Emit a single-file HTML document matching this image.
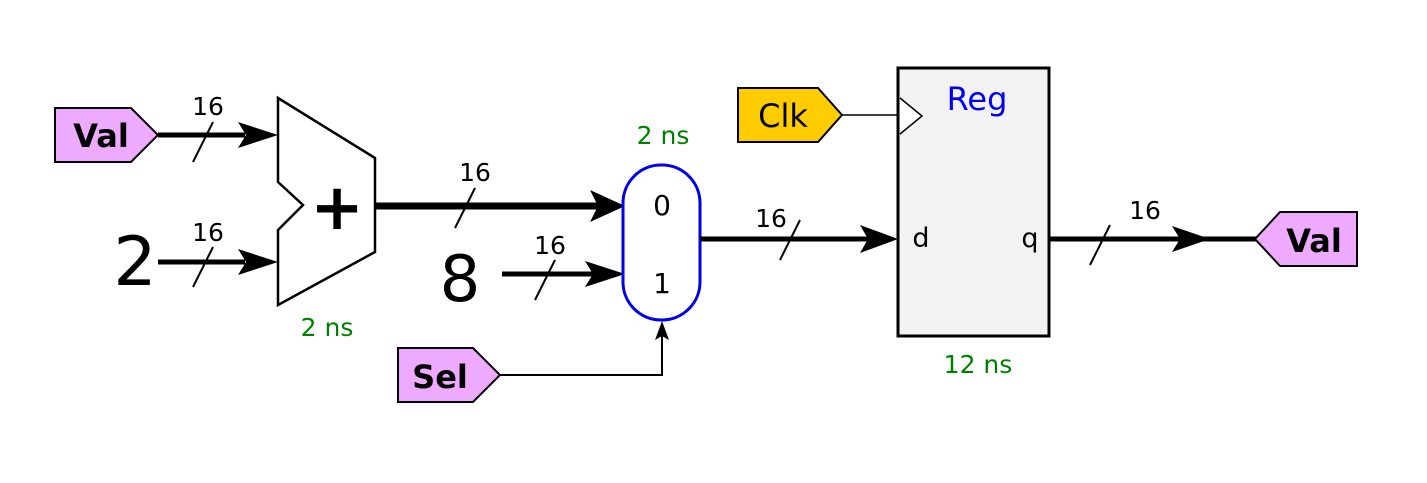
<!DOCTYPE html>
<html><head><meta charset="utf-8"><style>html,body{margin:0;padding:0;background:#fff}svg{display:block}</style></head>
<body>
<svg width="1427" height="483" viewBox="0 0 1427 483" xmlns="http://www.w3.org/2000/svg" font-family="DejaVu Sans, Liberation Sans, sans-serif">
<rect width="1427" height="483" fill="#fff"/>
<polygon points="55,108 131,108 158,135 131,162 55,162" fill="#eeaaff" stroke="#000" stroke-width="2"/>
<text x="101" y="147" font-size="32" font-weight="bold" text-anchor="middle">Val</text>
<line x1="158" y1="135" x2="245" y2="135" stroke="#000" stroke-width="5"/>
<polygon points="238,122 278,135 238,148 246,135" fill="#000"/>
<line x1="193" y1="162" x2="213" y2="122" stroke="#000" stroke-width="2"/>
<text x="208" y="115" font-size="25" text-anchor="middle">16</text>
<text x="135" y="285" font-size="68" text-anchor="middle">2</text>
<line x1="158" y1="262" x2="245" y2="262" stroke="#000" stroke-width="5"/>
<polygon points="238,249 278,262 238,275 246,262" fill="#000"/>
<line x1="193" y1="287" x2="213" y2="247" stroke="#000" stroke-width="2"/>
<text x="208" y="241" font-size="25" text-anchor="middle">16</text>
<polygon points="278,98 375,158 375,252 278,305 278,230 303,205 278,182" fill="#fff" stroke="#000" stroke-width="2.5"/>
<text x="337" y="229" font-size="64" font-weight="bold" text-anchor="middle">+</text>
<text x="327" y="336" font-size="25" fill="#008000" text-anchor="middle">2 ns</text>
<line x1="375" y1="206" x2="600" y2="206" stroke="#000" stroke-width="7"/>
<polygon points="590,190 625,206 590,222 598,206" fill="#000"/>
<line x1="455" y1="228" x2="475" y2="188" stroke="#000" stroke-width="2"/>
<text x="475" y="181" font-size="25" text-anchor="middle">16</text>
<text x="460" y="301" font-size="64" text-anchor="middle">8</text>
<line x1="502" y1="274" x2="595" y2="274" stroke="#000" stroke-width="5"/>
<polygon points="585,261 625,274 585,287 593,274" fill="#000"/>
<line x1="535" y1="300" x2="555" y2="260" stroke="#000" stroke-width="2"/>
<text x="550" y="254" font-size="25" text-anchor="middle">16</text>
<rect x="623" y="165" width="77" height="155" rx="38" ry="38" fill="#fff" stroke="#0000ee" stroke-width="3"/>
<text x="662" y="215" font-size="28" text-anchor="middle">0</text>
<text x="662" y="293" font-size="28" text-anchor="middle">1</text>
<text x="663" y="144" font-size="25" fill="#008000" text-anchor="middle">2 ns</text>
<line x1="700" y1="239" x2="870" y2="239" stroke="#000" stroke-width="5"/>
<polygon points="860,225 898,239 860,253 868,239" fill="#000"/>
<line x1="780" y1="260" x2="800" y2="220" stroke="#000" stroke-width="2"/>
<text x="771" y="227" font-size="25" text-anchor="middle">16</text>
<polygon points="398,348 473,348 500,375 473,402 398,402" fill="#eeaaff" stroke="#000" stroke-width="2"/>
<text x="440" y="388" font-size="32" font-weight="bold" text-anchor="middle">Sel</text>
<polyline points="500,375 662,375 662,330" fill="none" stroke="#000" stroke-width="2"/>
<polygon points="655,340 662,321 669,340 662,336" fill="#000"/>
<polygon points="738,88 818,88 842,115 818,142 738,142" fill="#ffcc00" stroke="#000" stroke-width="2"/>
<text x="783" y="127" font-size="32" text-anchor="middle">Clk</text>
<line x1="842" y1="115" x2="898" y2="115" stroke="#000" stroke-width="1.5"/>
<rect x="898" y="68" width="151" height="268" fill="#f2f2f2" stroke="#000" stroke-width="3"/>
<polyline points="900,98 922,116 900,134" fill="#fff" stroke="#000" stroke-width="1.5"/>
<text x="977" y="110" font-size="32" fill="#0000ee" text-anchor="middle">Reg</text>
<text x="921" y="247" font-size="27" text-anchor="middle">d</text>
<text x="1030" y="247" font-size="27" text-anchor="middle">q</text>
<text x="978" y="373" font-size="25" fill="#008000" text-anchor="middle">12 ns</text>
<line x1="1049" y1="239" x2="1256" y2="239" stroke="#000" stroke-width="5"/>
<polygon points="1172,226 1210,239 1172,252 1180,239" fill="#000"/>
<line x1="1090" y1="265" x2="1110" y2="225" stroke="#000" stroke-width="2"/>
<text x="1145" y="219" font-size="25" text-anchor="middle">16</text>
<polygon points="1255,239 1280,212 1357,212 1357,266 1280,266" fill="#eeaaff" stroke="#000" stroke-width="2"/>
<text x="1314" y="252" font-size="32" font-weight="bold" text-anchor="middle">Val</text>
</svg>
</body></html>
